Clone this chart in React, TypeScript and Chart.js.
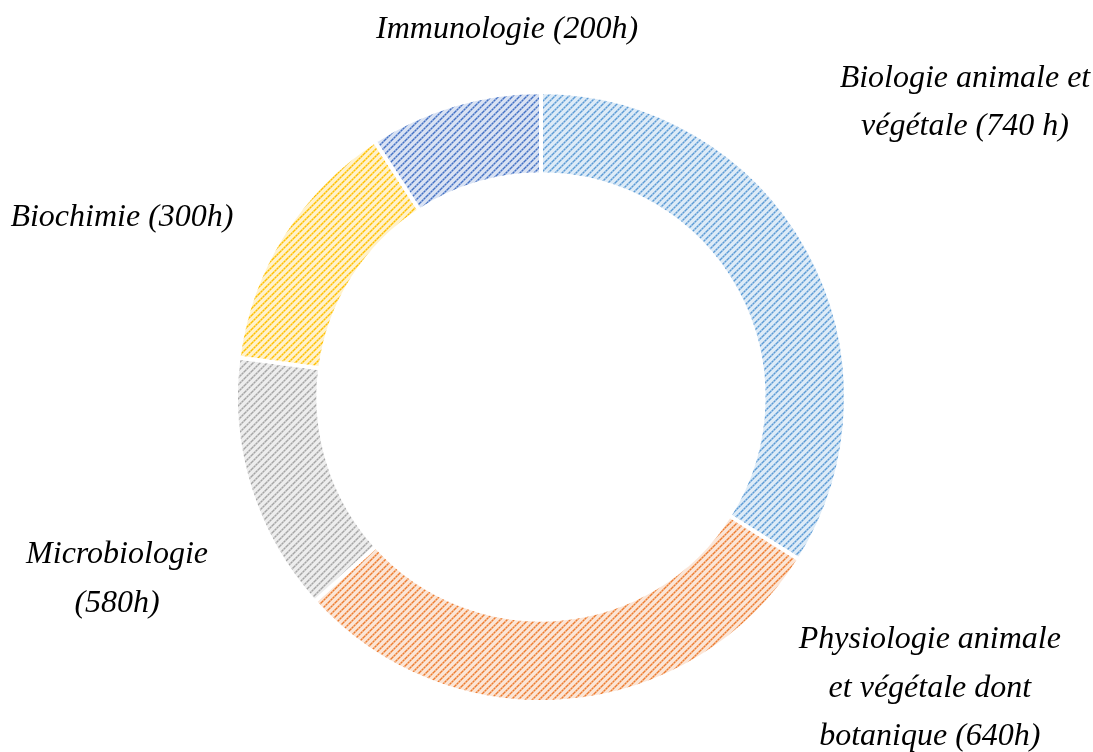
import React, { useEffect, useRef } from "react";
import { Chart, registerables } from "chart.js";

Chart.register(...registerables);

const categories = [
  ["Biologie animale et", "végétale (740 h)"],
  ["Physiologie animale", "et végétale dont", "botanique (640h)"],
  ["Microbiologie", "(580h)"],
  ["Biochimie (300h)"],
  ["Immunologie (200h)"],
];
const hours = [740, 640, 300, 300, 200];
const lineColors = ["#5B9BD5", "#ED7D31", "#A5A5A5", "#FFC000", "#4472C4"];
const midColors = ["#9DC3E6", "#F4B183", "#C9C9C9", "#FFD966", "#8FAADC"];
const tintColors = ["#DDEBF7", "#FBE5D6", "#EDEDED", "#FFF2CC", "#D9E2F3"];
// label anchor offsets in units of outer radius (relative to the ring centre)
const labelOffsets = [
  [1.39, -0.966],
  [1.275, 0.956],
  [-1.39, 0.597],
  [-1.374, -0.587],
  [-0.111, -1.203],
];

function makePattern(line: string, mid: string, tint: string): CanvasPattern | string {
  const n = 7;
  const c = document.createElement("canvas");
  c.width = n;
  c.height = n;
  const g = c.getContext("2d");
  if (!g) return line;
  g.fillStyle = tint;
  g.fillRect(0, 0, n, n);
  for (let i = 0; i < n; i++) {
    const y = n - 1 - i;
    g.fillStyle = mid;
    g.fillRect((i + n - 1) % n, y, 1, 1);
    g.fillRect((i + 1) % n, y, 1, 1);
    g.fillStyle = i % 2 === 0 ? line : mid;
    g.fillRect(i, y, 1, 1);
  }
  const p = g.createPattern(c, "repeat");
  return p || line;
}

const labelPlugin = {
  id: "outerLabels",
  afterDraw(chart: any) {
    const meta = chart.getDatasetMeta(0);
    if (!meta || !meta.data.length) return;
    const arc = meta.data[0];
    const cx = arc.x;
    const cy = arc.y;
    const R = arc.outerRadius;
    const ctx = chart.ctx;
    ctx.save();
    ctx.font = "italic 32px 'Liberation Serif', 'DejaVu Serif', serif";
    ctx.fillStyle = "#000";
    ctx.textAlign = "center";
    ctx.textBaseline = "middle";
    const lh = R * 0.159;
    categories.forEach((lines, i) => {
      const [ox, oy] = labelOffsets[i];
      const x = cx + ox * R;
      const y0 = cy + oy * R - ((lines.length - 1) * lh) / 2;
      lines.forEach((t, j) => ctx.fillText(t, x, y0 + j * lh));
    });
    ctx.restore();
  },
};

export default function App() {
  const ref = useRef<HTMLCanvasElement>(null);
  useEffect(() => {
    if (!ref.current) return;
    const patterns = lineColors.map((c, i) => makePattern(c, midColors[i], tintColors[i]));
    const chart = new Chart(ref.current, {
      type: "doughnut",
      data: {
        labels: categories.map((l) => l.join(" ")),
        datasets: [
          {
            data: hours,
            backgroundColor: patterns as any,
            borderColor: "#ffffff",
            borderWidth: 4,
          },
        ],
      },
      options: {
        animation: false,
        responsive: false,
        maintainAspectRatio: false,
        cutout: "73%",
        layout: { padding: { top: 90, bottom: 48, left: 0, right: 11 } },
        plugins: {
          legend: { display: false },
          tooltip: { enabled: false },
        },
      },
      plugins: [labelPlugin],
    });
    return () => chart.destroy();
  }, []);
  return (
    <div style={{ position: "fixed", left: 0, top: 0, width: 1093, height: 752, background: "#fff" }}>
      <canvas ref={ref} width={1093} height={752} style={{ width: 1093, height: 752 }} />
    </div>
  );
}
